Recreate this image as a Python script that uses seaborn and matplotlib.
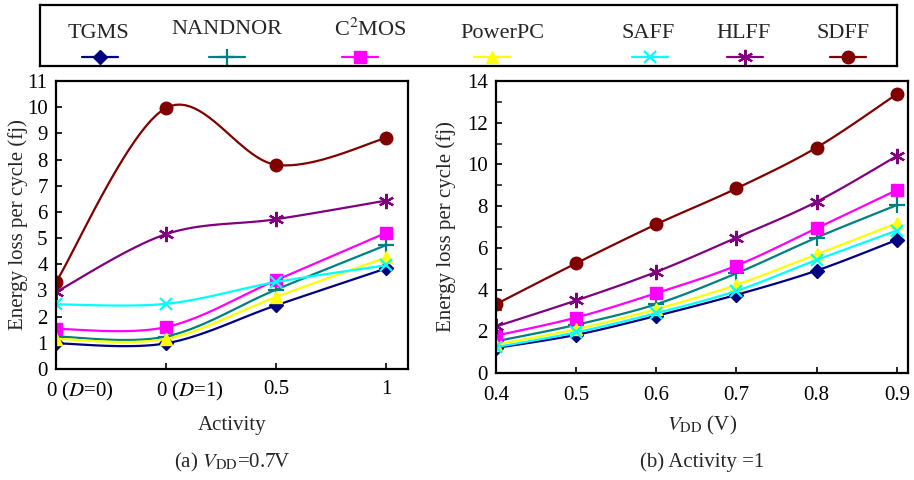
import numpy as np
import matplotlib
matplotlib.use("Agg")
import matplotlib.pyplot as plt
import matplotlib.transforms as mtransforms
import seaborn as sns

# ---- data -------------------------------------------------------------
series = ["TGMS", "NANDNOR", "C$^2$MOS", "PowerPC", "SAFF", "HLFF", "SDFF"]

# (a) energy vs. activity at VDD = 0.7 V
activity_labels = ["0 ($D$=0)", "0 ($D$=1)", "0.5", "1"]
act_tgms    = [0.98, 0.98, 2.43, 3.84]
act_nandnor = [1.24, 1.24, 3.03, 4.73]
act_c2mos   = [1.53, 1.60, 3.39, 5.20]
act_powerpc = [1.15, 1.15, 2.75, 4.26]
act_saff    = [2.47, 2.49, 3.32, 3.96]
act_hlff    = [2.94, 5.15, 5.72, 6.43]
act_sdff    = [3.32, 9.97, 7.80, 8.82]

# (b) energy vs. supply voltage at activity = 1
vdd = [0.4, 0.5, 0.6, 0.7, 0.8, 0.9]
vdd_tgms    = [1.20, 1.83, 2.74, 3.75, 4.91, 6.38]
vdd_nandnor = [1.52, 2.31, 3.30, 4.78, 6.49, 8.05]
vdd_c2mos   = [1.79, 2.66, 3.83, 5.15, 6.94, 8.77]
vdd_powerpc = [1.36, 2.10, 3.06, 4.23, 5.69, 7.18]
vdd_saff    = [1.24, 1.95, 2.87, 3.94, 5.42, 6.83]
vdd_hlff    = [2.23, 3.48, 4.85, 6.49, 8.21, 10.40]
vdd_sdff    = [3.30, 5.26, 7.13, 8.85, 10.81, 13.37]

act_values = [act_tgms, act_nandnor, act_c2mos, act_powerpc, act_saff, act_hlff, act_sdff]
vdd_values = [vdd_tgms, vdd_nandnor, vdd_c2mos, vdd_powerpc, vdd_saff, vdd_hlff, vdd_sdff]

# ---- styles -----------------------------------------------------------
colors = ["#000080", "#008080", "#FF00FF", "#FFFF00", "#00FFFF", "#800080", "#800000"]
markers = ["D", "+", "s", "^", "x", (6, 2, 0), "o"]
msizes = [7, 11, 8, 9, 9, 11, 9]
medge = [1, 1.6, 1, 1, 1.6, 1.6, 1]

sns.set_theme(style="white")
plt.rcParams["font.family"] = ["Liberation Serif", "DejaVu Serif"]
plt.rcParams["mathtext.fontset"] = "stix"
plt.rcParams["axes.linewidth"] = 1.6


def smooth(x, y, n=24):
    """Catmull-Rom style cubic Bezier through the points (spreadsheet 'smoothed line')."""
    p = np.column_stack([x, y]).astype(float)
    pad = np.vstack([p[0], p, p[-1]])
    t = np.linspace(0, 1, n)[:, None]
    out = []
    for i in range(len(p) - 1):
        p0, p1, p2, p3 = pad[i], pad[i + 1], pad[i + 2], pad[i + 3]
        c1 = p1 + (p2 - p0) / 6.0
        c2 = p2 - (p3 - p1) / 6.0
        seg = ((1 - t) ** 3) * p1 + 3 * ((1 - t) ** 2) * t * c1 + 3 * (1 - t) * t ** 2 * c2 + t ** 3 * p2
        out.append(seg if i == 0 else seg[1:])
    out = np.vstack(out)
    return out[:, 0], out[:, 1]


def draw_series(ax, xs, values):
    for vals, c, m, ms, mew in zip(values, colors, markers, msizes, medge):
        sx, sy = smooth(xs, vals)
        sns.lineplot(x=sx, y=sy, ax=ax, color=c, linewidth=1.6, sort=False,
                     estimator=None, legend=False)
        ax.plot(xs, vals, linestyle="none", marker=m, markersize=ms, color=c,
                markeredgecolor=c, markeredgewidth=mew)


fig = plt.figure(figsize=(9.14, 4.8), dpi=100)

# ---- (a) activity ---------------------------------------------------
ax1 = fig.add_axes([56 / 914, 1 - 369 / 480, 352 / 914, 288 / 480])
xa = np.arange(len(activity_labels))
draw_series(ax1, xa, act_values)
ax1.set_xlim(0, 3.2)
ax1.set_ylim(0, 11)
ax1.set_xticks(xa)
ax1.set_xticklabels(activity_labels)
ax1.set_yticks(range(0, 12))
ax1.set_xlabel("Activity", fontsize=15, labelpad=9)
ax1.set_ylabel("Energy loss per cycle (fj)", fontsize=15, labelpad=-1)

# ---- (b) supply voltage ---------------------------------------------
ax2 = fig.add_axes([496 / 914, 1 - 373 / 480, 412 / 914, 292 / 480])
draw_series(ax2, vdd, vdd_values)
ax2.set_xlim(0.4, 0.914)
ax2.set_ylim(0, 14)
ax2.set_xticks(vdd)
ax2.set_xticklabels([f"{v:.1f}" for v in vdd])
ax2.set_yticks(range(0, 15, 2))
ax2.set_yticks(range(1, 14, 2), minor=True)
ax2.set_xlabel("$V_{\\mathrm{DD}}$ (V)", fontsize=15, labelpad=7)
ax2.set_ylabel("Energy loss per cycle (fj)", fontsize=15, labelpad=8)

for ax, xpad in ((ax1, 8), (ax2, 9)):
    ax.tick_params(axis="x", which="major", direction="in", length=4, width=1.2,
                   labelsize=15, colors="black", pad=xpad)
    ax.tick_params(axis="y", which="major", direction="in", length=4, width=1.2,
                   labelsize=15, colors="black", pad=6)
    ax.tick_params(axis="y", which="minor", direction="in", length=4, width=1.2, left=True)
    ax.tick_params(bottom=True, left=True)
    for s in ax.spines.values():
        s.set_color("black")
        s.set_linewidth(1.6)
    ax.set_facecolor("white")

# the two "0 (D=..)" category labels sit a little right of their ticks
shift = mtransforms.ScaledTranslation(24 / 100, 0, fig.dpi_scale_trans)
for lbl in ax1.get_xticklabels()[:2]:
    lbl.set_transform(lbl.get_transform() + shift)

fig.text(232 / 914, 1 - 462 / 480, "(a) $V_{\\mathrm{DD}}$=0.7V", ha="center", va="center", fontsize=15)
fig.text(702 / 914, 1 - 462 / 480, "(b) Activity =1", ha="center", va="center", fontsize=15)

# ---- shared legend box ------------------------------------------------
lg = fig.add_axes([40 / 914, 1 - 66 / 480, 857 / 914, 61 / 480])
lg.set_xlim(40, 897)
lg.set_ylim(66, 5)
lg.set_xticks([])
lg.set_yticks([])
for s in lg.spines.values():
    s.set_color("black")
    s.set_linewidth(1.6)
label_x = [98, 227, 370, 502, 648, 744, 843]
label_y = [34, 30, 30, 33, 33, 33, 33]
handle_x = [100, 227, 360, 492, 650, 745, 848]
for name, lx, ly, hx, c, m, ms, mew in zip(series, label_x, label_y, handle_x, colors, markers, msizes, medge):
    lg.text(lx, ly, name, ha="center", va="center", fontsize=16)
    lg.plot([hx - 18, hx, hx + 18], [57, 57, 57], color=c, linewidth=1.6,
            marker=m, markevery=[1], markersize=ms, markeredgecolor=c, markeredgewidth=mew)

fig.savefig("out.png", dpi=100, facecolor="white")
